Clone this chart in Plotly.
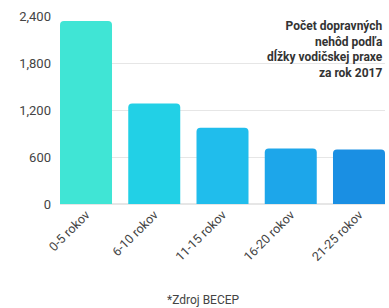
import plotly.graph_objects as go

categories = ["0-5 rokov", "6-10 rokov", "11-15 rokov", "16-20 rokov", "21-25 rokov"]
values = [2336, 1283, 973, 710, 697]
colors = ["#40E5D5", "#22D0E6", "#20BDEC", "#1DA6EA", "#1A8FE3"]
y_ticks = [0, 600, 1200, 1800, 2400]
y_tick_labels = ["0", "600", "1,200", "1,800", "2,400"]
title_lines = ["Počet dopravných", "nehôd podľa", "dĺžky vodičskej praxe", "za rok 2017"]
source_text = "*Zdroj BECEP"

fig = go.Figure(go.Bar(
    x=list(range(len(categories))), y=values,
    marker=dict(color=colors, cornerradius=4, line=dict(width=0)),
    width=0.762,
    hoverinfo="skip",
))

fig.update_layout(
    width=389, height=308,
    margin=dict(l=60, r=4, t=16, b=104),
    plot_bgcolor="white", paper_bgcolor="white",
    font=dict(family="Roboto, Liberation Sans, sans-serif", color="#444444"),
    showlegend=False,
    xaxis=dict(
        range=[-0.381, 4.381],
        tickmode="array",
        tickvals=list(range(len(categories))),
        ticktext=categories,
        tickangle=-45,
        tickfont=dict(size=12.5, color="#444444"),
        showgrid=False, zeroline=False, showline=False, ticks="",
    ),
    yaxis=dict(
        range=[0, 2400],
        tickmode="array",
        tickvals=y_ticks,
        ticktext=y_tick_labels,
        tickfont=dict(size=13, color="#444444"),
        showgrid=True, gridcolor="#E6E6E6", gridwidth=1,
        zeroline=True, zerolinecolor="#E6E6E6",
        showline=False, ticks="", ticklen=0,
        ticklabelstandoff=8,
    ),
)

fig.add_annotation(
    text="<br>".join("<b>%s</b>" % t for t in title_lines),
    xref="paper", yref="paper", x=1.0, y=1.0, yshift=-1,
    xanchor="right", yanchor="top", align="right", showarrow=False,
    font=dict(size=12, color="#333333", family="Roboto, Liberation Sans, sans-serif"),
)

fig.add_annotation(
    text=source_text,
    xref="paper", yref="paper", x=0.44, y=0, yshift=-96,
    xanchor="center", yanchor="middle", showarrow=False,
    font=dict(size=12, color="#444444"),
)

fig.write_html(
    "out.html",
    config={"displayModeBar": False},
    post_script="document.body.style.margin='0';document.body.style.overflow='hidden';",
)
